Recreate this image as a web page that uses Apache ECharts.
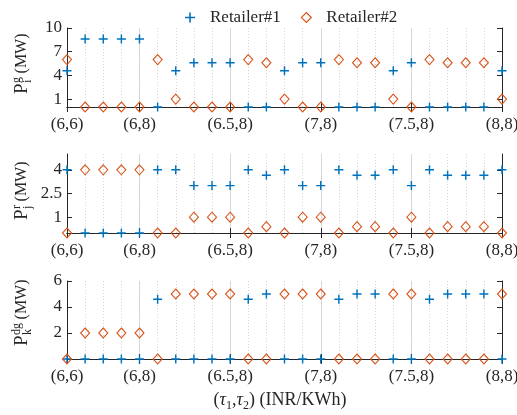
<!DOCTYPE html>
<html>
<head>
<meta charset="utf-8">
<title>Retailer power vs (tau1, tau2)</title>
<script src="https://cdn.jsdelivr.net/npm/echarts@6/dist/echarts.min.js"></script>
<style>
  html, body { margin: 0; padding: 0; background: #fff; }
  #main { width: 517px; height: 415px; }
</style>
</head>
<body>
<div id="main"></div>
<script>
// price pairs (tau1, tau2)
var categories = [
    '(6,6)', '(6,6.5)', '(6,7)', '(6,7.5)', '(6,8)',
    '(6.5,6)', '(6.5,6.5)', '(6.5,7)', '(6.5,7.5)', '(6.5,8)',
    '(7,6)', '(7,6.5)', '(7,7)', '(7,7.5)', '(7,8)',
    '(7.5,6)', '(7.5,6.5)', '(7.5,7)', '(7.5,7.5)', '(7.5,8)',
    '(8,6)', '(8,6.5)', '(8,7)', '(8,7.5)', '(8,8)'
];
// only these categories get a label / tick / solid grid line
var labelledIdx = [0, 4, 9, 14, 19, 24];

// P^g_i (MW)
var gRet1 = [4.6, 8.6, 8.6, 8.6, 8.6, 0, 4.6, 5.6, 5.6, 5.6, 0, 0, 4.6, 5.6, 5.6, 0, 0, 0, 4.6, 5.6, 0, 0, 0, 0, 4.6];
var gRet2 = [6, 0, 0, 0, 0, 6, 1, 0, 0, 0, 6, 5.6, 1, 0, 0, 6, 5.6, 5.6, 1, 0, 6, 5.6, 5.6, 5.6, 1];
// P^r_j (MW)
var rRet1 = [4, 0, 0, 0, 0, 4, 4, 3, 3, 3, 4, 3.65, 4, 3, 3, 4, 3.65, 3.65, 4, 3, 4, 3.65, 3.65, 3.65, 4];
var rRet2 = [0, 4, 4, 4, 4, 0, 0, 1, 1, 1, 0, 0.4, 0, 1, 1, 0, 0.4, 0.4, 0, 1, 0, 0.4, 0.4, 0.4, 0];
// P^dg_k (MW)
var dgRet1 = [0, 0, 0, 0, 0, 4.6, 0, 0, 0, 0, 4.6, 5, 0, 0, 0, 4.6, 5, 5, 0, 0, 4.6, 5, 5, 5, 0];
var dgRet2 = [0, 2, 2, 2, 2, 0, 5, 5, 5, 5, 0, 0, 5, 5, 5, 0, 0, 0, 5, 5, 0, 0, 0, 0, 5];

// y tick values per panel
var gTicks = [1, 4, 7, 10];
var rTicks = [1, 2.5, 4];
var dgTicks = [2, 4, 6];

var FONT = '"Liberation Serif", "Times New Roman", serif';
var INK = '#262626';
var BLUE = '#0072BD';
var ORANGE = '#D95319';
var PLUS = 'path://M42,0H58V42H100V58H58V100H42V58H0V42H42Z';
var DIAMOND = 'path://M50,0L100,50L50,100L0,50Z';

function isLabelled(i) { return labelledIdx.indexOf(i) >= 0; }

var ctx = document.createElement('canvas').getContext('2d');
function textWidth(str, size, style) {
    ctx.font = (style || 'normal') + ' ' + size + 'px ' + FONT;
    return ctx.measureText(str).width;
}

var panels = [
    { top: 28, height: 79, max: 10, ticks: gTicks, a: gRet1, b: gRet2, sup: 'g', sub: 'i' },
    { top: 154, height: 79, max: 5, ticks: rTicks, a: rRet1, b: rRet2, sup: 'r', sub: 'j' },
    { top: 281, height: 78, max: 6, ticks: dgTicks, a: dgRet1, b: dgRet2, sup: 'dg', sub: 'k' }
];

var grid = [], xAxis = [], yAxis = [], series = [], graphic = [];

panels.forEach(function (p, gi) {
    grid.push({ left: 67, right: 15, top: p.top, height: p.height, outerBoundsMode: 'none' });

    // bottom axis: labels, ticks and solid grid lines at the labelled pairs
    xAxis.push({
        gridIndex: gi, type: 'category', data: categories, boundaryGap: false, position: 'bottom',
        axisLine: { lineStyle: { color: INK, width: 1 } },
        axisTick: { inside: true, length: 5, interval: function (i) { return isLabelled(i); }, lineStyle: { color: INK } },
        axisLabel: { interval: function (i) { return isLabelled(i); }, fontFamily: FONT, fontSize: 17, color: INK, margin: 9 },
        splitLine: { show: true, interval: function (i) { return isLabelled(i); }, lineStyle: { color: '#d9d9d9', width: 1 } }
    });
    // top axis: box edge, ticks, dotted grid at every pair
    xAxis.push({
        gridIndex: gi, type: 'category', data: categories, boundaryGap: false, position: 'top',
        axisLine: { lineStyle: { color: INK, width: 1 } },
        axisTick: { inside: true, length: 5, interval: function (i) { return isLabelled(i); }, lineStyle: { color: INK } },
        axisLabel: { show: false },
        splitLine: { show: true, interval: 0, lineStyle: { color: '#d4d4d4', width: 1, type: [1, 2] } }
    });

    yAxis.push({
        gridIndex: gi, type: 'value', min: 0, max: p.max, position: 'left',
        axisLine: { show: true, lineStyle: { color: INK, width: 1 } },
        axisTick: { show: true, inside: true, length: 5, customValues: p.ticks, lineStyle: { color: INK } },
        axisLabel: { customValues: p.ticks, fontFamily: FONT, fontSize: 17, color: INK, margin: 5 },
        splitLine: { show: false }
    });
    yAxis.push({
        gridIndex: gi, type: 'value', min: 0, max: p.max, position: 'right',
        axisLine: { show: true, lineStyle: { color: INK, width: 1 } },
        axisTick: { show: true, inside: true, length: 5, customValues: p.ticks, lineStyle: { color: INK } },
        axisLabel: { show: false },
        splitLine: { show: false }
    });

    series.push({
        name: 'Retailer#1', type: 'scatter', xAxisIndex: gi * 2, yAxisIndex: gi * 2,
        data: p.a, symbol: PLUS, symbolSize: 9, clip: false,
        itemStyle: { color: BLUE, opacity: 1 }
    });
    series.push({
        name: 'Retailer#2', type: 'scatter', xAxisIndex: gi * 2, yAxisIndex: gi * 2,
        data: p.b, symbol: DIAMOND, symbolSize: [9, 10], clip: false,
        itemStyle: { color: 'rgba(255,255,255,0)', borderColor: ORANGE, borderWidth: 1.1, opacity: 1 }
    });

    // rotated y title: P with stacked super/subscript, then (MW)
    var supW = Math.max(textWidth(p.sup, 12), textWidth(p.sub, 12));
    var pW = textWidth('P', 19);
    graphic.push({
        type: 'group', x: 22, y: p.top + p.height - 13, rotation: Math.PI / 2,
        children: [
            { type: 'text', x: 0, y: 0, style: { text: 'P', fontSize: 19, fontFamily: FONT, fill: INK, verticalAlign: 'middle', textVerticalAlign: 'middle' } },
            { type: 'text', x: pW + 0.5, y: -5, style: { text: p.sup, fontSize: 12, fontFamily: FONT, fill: INK, verticalAlign: 'middle', textVerticalAlign: 'middle' } },
            { type: 'text', x: pW + 0.5, y: 6, style: { text: p.sub, fontSize: 12, fontFamily: FONT, fill: INK, verticalAlign: 'middle', textVerticalAlign: 'middle' } },
            { type: 'text', x: pW + supW + 4, y: 0, style: { text: '(MW)', fontSize: 16, fontFamily: FONT, fill: INK, verticalAlign: 'middle', textVerticalAlign: 'middle' } }
        ]
    });
});

// x title: (tau_1,tau_2) (INR/KWh)
var parts = [
    { t: '(', s: 18 }, { t: '\u03c4', s: 18, it: true }, { t: '1', s: 12, sub: true },
    { t: ',', s: 18 }, { t: '\u03c4', s: 18, it: true }, { t: '2', s: 12, sub: true },
    { t: ') (INR/KWh)', s: 18 }
];
var totalW = 0;
parts.forEach(function (q) { q.w = textWidth(q.t, q.s, q.it ? 'italic' : 'normal'); totalW += q.w; });
var xCur = 280 - totalW / 2;
var titleKids = [];
parts.forEach(function (q) {
    titleKids.push({
        type: 'text', x: xCur, y: q.sub ? 406 : 400,
        style: { text: q.t, fontSize: q.s, fontFamily: FONT, fontStyle: q.it ? 'italic' : 'normal', fill: INK, verticalAlign: 'middle', textVerticalAlign: 'middle' }
    });
    xCur += q.w;
});
graphic.push({ type: 'group', children: titleKids });

var myChart = echarts.init(document.getElementById('main'), null, { renderer: 'canvas' });
var option = {
    animation: false,
    backgroundColor: '#fff',
    legend: {
        left: 180, top: 4, itemWidth: 10, itemHeight: 10, itemGap: 20,
        textStyle: { fontFamily: FONT, fontSize: 17, color: INK, padding: [0, 0, 0, 10] },
        data: [
            { name: 'Retailer#1', icon: PLUS, itemStyle: { color: BLUE } },
            { name: 'Retailer#2', icon: DIAMOND, itemStyle: { color: 'rgba(255,255,255,0)', borderColor: ORANGE, borderWidth: 1.1 } }
        ]
    },
    grid: grid,
    xAxis: xAxis,
    yAxis: yAxis,
    series: series,
    graphic: graphic
};
myChart.setOption(option);
</script>
</body>
</html>
